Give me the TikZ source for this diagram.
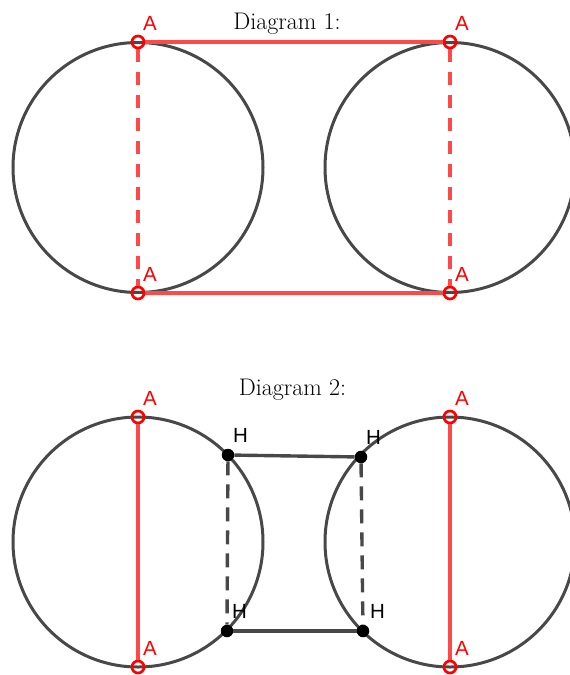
\documentclass[tikz,border=0pt]{standalone}
\usepackage{fontspec}
\newfontfamily\labelfont{Liberation Sans}
\usetikzlibrary{positioning}
\definecolor{ringgray}{RGB}{72,72,72}
\definecolor{chordred}{RGB}{255,72,72}

\begin{document}
\begin{tikzpicture}[
    x=1pt, y=-1pt,
    ring/.style={draw=ringgray, line width=3pt},
    chord/.style={draw=chordred, line width=3.2pt},
    link/.style={draw=ringgray, line width=3.4pt},
    apt/.style={circle, draw=red, line width=2.7pt, minimum size=12pt, inner sep=0pt},
    hpt/.style={circle, fill=black, minimum size=12.5pt, inner sep=0pt},
    ptlabel/.style={inner sep=0pt, anchor=base west, font=\labelfont\fontsize{20.5}{24}\selectfont},
    alabel/.style={ptlabel, text=red, xshift=5pt, yshift=12pt},
    hlabel/.style={ptlabel, text=black, xshift=5pt, yshift=12.5pt},
    title/.style={inner sep=0pt, anchor=base, font=\fontsize{24}{29}\selectfont}
  ]
    \useasboundingbox (0,0) rectangle (570,675);

    % Diagram 1
    \node[title] (t1) at (287,29) {Diagram 1:};
    \coordinate (c1) at (138,167.5);
    \coordinate (c2) at (450,167.5);
    \draw[ring] (c1) circle[radius=125pt];
    \draw[ring] (c2) circle[radius=125pt];
    \node[apt] (a1) at (138,42) {};
    \node[apt] (a2) at (138,293) {};
    \node[apt] (a3) at (450,42) {};
    \node[apt] (a4) at (450,293) {};
    \draw[chord] (a1) -- (a3);
    \draw[chord] (a2) -- (a4);
    \draw[chord, dash pattern=on 13pt off 10pt] (a1) -- (a2);
    \draw[chord, dash pattern=on 13pt off 10pt] (a3) -- (a4);
    \foreach \p in {a1,a2,a3,a4}
      \node[alabel] at (\p.center) {A};

    % Diagram 2
    \node[title] (t2) at (292.5,395) {Diagram 2:};
    \coordinate (c3) at (138,542);
    \coordinate (c4) at (450,542);
    \draw[ring] (c3) circle[radius=125pt];
    \draw[ring] (c4) circle[radius=125pt];
    \node[apt] (a5) at (138,417) {};
    \node[apt] (a6) at (138,667) {};
    \node[apt] (a7) at (450,417) {};
    \node[apt] (a8) at (450,667) {};
    \draw[chord] (a5) -- (a6);
    \draw[chord] (a7) -- (a8);
    \node[hpt] (h1) at (228,455) {};
    \node[hpt] (h2) at (361,457) {};
    \node[hpt] (h3) at (227,631) {};
    \node[hpt] (h4) at (363,631) {};
    \draw[link] (h1) -- (h2);
    \draw[link] (h3) -- (h4);
    \draw[link, dash pattern=on 14pt off 9pt] (h1) -- (h3);
    \draw[link, dash pattern=on 14pt off 9pt] (h2) -- (h4);
    \foreach \p in {a5,a6,a7,a8}
      \node[alabel] at (\p.center) {A};
    \foreach \p in {h1,h2,h3}
      \node[hlabel] at (\p.center) {H};
    \node[hlabel, xshift=2pt] at (h4.center) {H};
  \end{tikzpicture}
\end{document}
